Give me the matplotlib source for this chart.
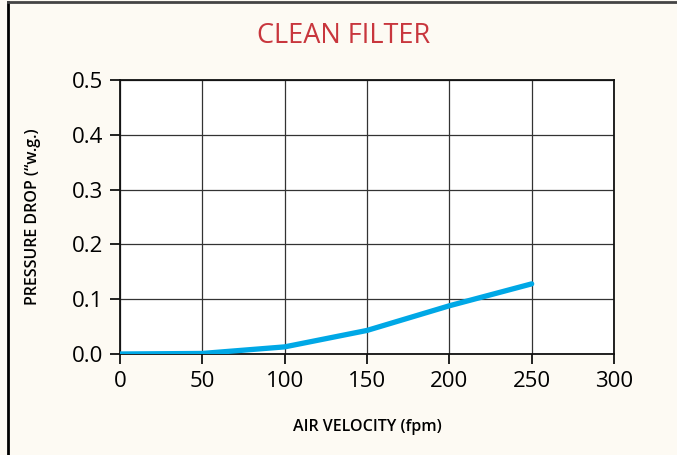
import matplotlib
matplotlib.use("Agg")
import matplotlib.pyplot as plt
from matplotlib.lines import Line2D

# Data
velocity = [0, 50, 100, 150, 200, 250]
pressure_drop = [0.0, 0.001, 0.013, 0.043, 0.088, 0.128]

x_ticks = [0, 50, 100, 150, 200, 250, 300]
y_ticks = [0.0, 0.1, 0.2, 0.3, 0.4, 0.5]

bg = "#fdfaf3"
line_color = "#00a8e6"
title_color = "#c8363d"

fig = plt.figure(figsize=(6.77, 4.55), dpi=100, facecolor=bg)
ax = fig.add_axes([120 / 677, 1 - 354 / 455, 494 / 677, 274 / 455])
ax.set_facecolor("white")

ax.plot(velocity, pressure_drop, color=line_color, linewidth=3.8,
        solid_capstyle="round", zorder=3)

ax.set_xlim(0, 300)
ax.set_ylim(0, 0.5)
ax.set_xticks(x_ticks)
ax.set_yticks(y_ticks)
ax.set_xticklabels([str(v) for v in x_ticks])
ax.set_yticklabels([f"{v:.1f}" for v in y_ticks])
ax.grid(True, color="#333333", linewidth=0.9)
ax.set_axisbelow(True)

for s in ax.spines.values():
    s.set_color("#111111")
    s.set_linewidth(1.3)

ax.tick_params(axis="both", direction="out", length=7, width=1.3,
               color="#111111", labelsize=16, pad=5)
for lab in ax.get_xticklabels() + ax.get_yticklabels():
    lab.set_fontfamily("Open Sans")

ax.set_xlabel("AIR VELOCITY (fpm)", fontsize=11.5, fontweight="semibold",
              family="Open Sans", labelpad=20)
ax.set_ylabel("PRESSURE DROP (\u201cw.g.)", fontsize=11.5, fontweight="semibold",
              family="Open Sans", labelpad=22)

fig.text(344 / 677, 1 - 36 / 455, "CLEAN FILTER", color=title_color,
         fontsize=19.5, family="Open Sans",
         ha="center", va="center")

# frame border on left and top
fig.add_artist(Line2D([8 / 677, 8 / 677], [0, 1 - 2 / 455],
                      transform=fig.transFigure, color="black", linewidth=2))
fig.add_artist(Line2D([8 / 677, 1], [1 - 2 / 455, 1 - 2 / 455],
                      transform=fig.transFigure, color="#444444", linewidth=2))

fig.savefig("out.png", dpi=100, facecolor=bg)
